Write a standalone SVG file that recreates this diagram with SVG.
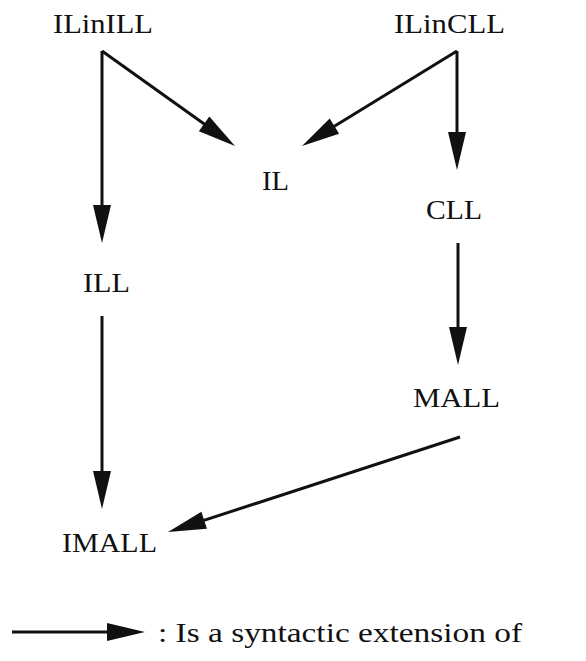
<svg xmlns="http://www.w3.org/2000/svg" width="586" height="661" viewBox="0 0 586 661">
<style>
.lbl{font-family:"Liberation Serif","Times New Roman",serif;font-size:27px;fill:#111;}
.c{text-anchor:middle;}
.edge{stroke:#111;stroke-width:3;fill:none;marker-end:url(#ah);}
</style>
<defs>
<marker id="ah" markerUnits="userSpaceOnUse" markerWidth="40" markerHeight="20" refX="23" refY="10" orient="auto" overflow="visible">
<path d="M0,1 L38,10 L0,19 Z" fill="#111"/>
</marker>
</defs>
<rect width="586" height="661" fill="#fff"/>
<g id="connectors">
<line class="edge" x1="102" y1="51" x2="102" y2="228"/>
<line class="edge" x1="102" y1="51" x2="222.8" y2="137.3"/>
<line class="edge" x1="457" y1="51" x2="314.8" y2="138.2"/>
<line class="edge" x1="457" y1="51" x2="457" y2="155"/>
<line class="edge" x1="102" y1="316" x2="102" y2="494"/>
<line class="edge" x1="458" y1="243" x2="458" y2="350"/>
<line class="edge" x1="460" y1="437" x2="182.3" y2="527.4"/>
</g>
<g id="ILinILL"><text class="lbl c" x="103" y="33" textLength="100" lengthAdjust="spacingAndGlyphs">ILinILL</text></g>
<g id="ILinCLL"><text class="lbl c" x="449.5" y="33" textLength="111" lengthAdjust="spacingAndGlyphs">ILinCLL</text></g>
<g id="IL"><text class="lbl c" x="275.5" y="190" textLength="27" lengthAdjust="spacingAndGlyphs">IL</text></g>
<g id="CLL"><text class="lbl c" x="454" y="219" textLength="56" lengthAdjust="spacingAndGlyphs">CLL</text></g>
<g id="ILL"><text class="lbl c" x="106.5" y="292" textLength="47" lengthAdjust="spacingAndGlyphs">ILL</text></g>
<g id="MALL"><text class="lbl c" x="456.5" y="407" textLength="87" lengthAdjust="spacingAndGlyphs">MALL</text></g>
<g id="IMALL"><text class="lbl c" x="109.5" y="552" textLength="95" lengthAdjust="spacingAndGlyphs">IMALL</text></g>
<g id="legend">
<line class="edge" x1="12" y1="632" x2="130" y2="632"/>
<text class="lbl" x="158" y="642" textLength="364" lengthAdjust="spacingAndGlyphs">: Is a syntactic extension of</text>
</g>
</svg>
